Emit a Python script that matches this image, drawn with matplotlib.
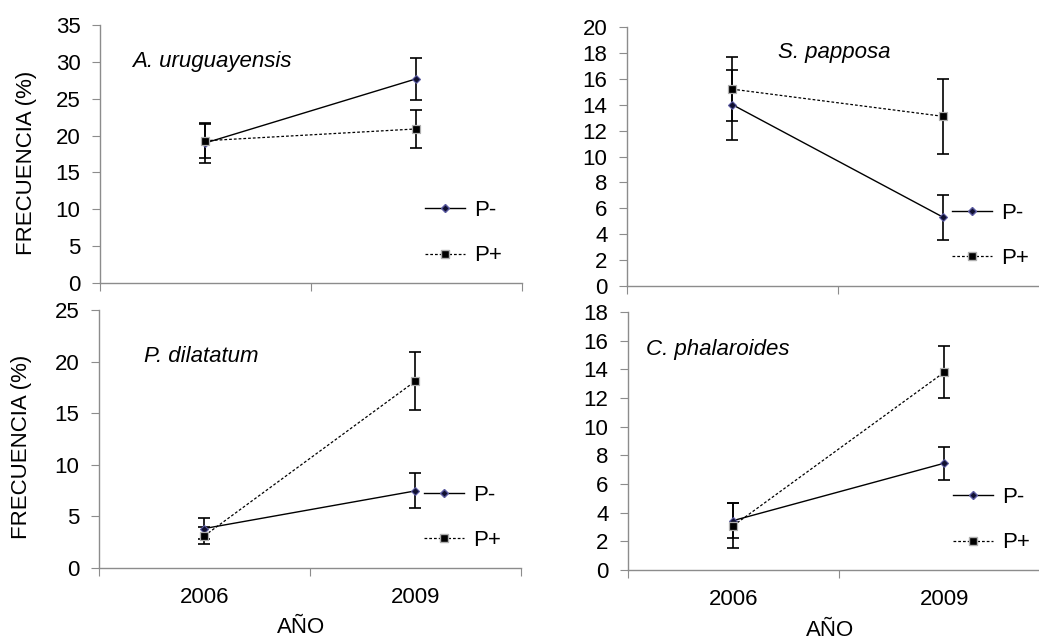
import matplotlib
matplotlib.use("Agg")
import matplotlib.pyplot as plt
from matplotlib.lines import Line2D

plt.rcParams['font.family'] = ['Liberation Sans', 'DejaVu Sans']

# data
years = ['2006', '2009']
species = ['A. uruguayensis', 'S. papposa', 'P. dilatatum', 'C. phalaroides']
p_minus = [[19.0, 27.7], [14.0, 5.3], [3.8, 7.45], [3.45, 7.45]]
p_minus_err = [[2.7, 2.85], [2.7, 1.75], [1.0, 1.7], [1.2, 1.15]]
p_plus = [[19.3, 20.9], [15.2, 13.1], [3.1, 18.1], [3.1, 13.8]]
p_plus_err = [[2.3, 2.6], [2.45, 2.9], [0.8, 2.8], [1.6, 1.8]]
y_max = [35, 20, 25, 18]
y_step = [5, 2, 5, 2]

# axes placement [left, bottom, width, height] in figure fraction
positions = [[0.0962, 0.5571, 0.406, 0.4038],
             [0.6035, 0.5524, 0.406, 0.4053],
             [0.0953, 0.1116, 0.406, 0.4033],
             [0.6044, 0.1080, 0.406, 0.4038]]
title_pos = [(0.076, 0.857), (0.358, 0.90), (0.107, 0.818), (0.043, 0.853)]
ylabel_x = [-0.149, None, -0.159, None]

fig = plt.figure(figsize=(10.39, 6.39), dpi=100)
axis_gray = '#8c8c8c'
fs = 16

x = [0, 1]
for i in range(4):
    ax = fig.add_axes(positions[i])

    # P- : solid line, small diamonds
    ax.errorbar(x, p_minus[i], yerr=p_minus_err[i], fmt='none', ecolor='black',
                elinewidth=1.2, capsize=4, capthick=1.2, zorder=2)
    ax.plot(x, p_minus[i], color='black', linewidth=1.0, marker='D', markersize=4.5,
            markerfacecolor='#101030', markeredgecolor='#5a5aa0', markeredgewidth=0.8,
            zorder=3)

    # P+ : dashed line, black squares
    ax.errorbar(x, p_plus[i], yerr=p_plus_err[i], fmt='none', ecolor='black',
                elinewidth=1.2, capsize=4, capthick=1.2, zorder=2)
    ax.plot(x, p_plus[i], color='black', linewidth=0.9, linestyle=(0, (2.2, 1.6)),
            marker='s', markersize=6, markerfacecolor='black',
            markeredgecolor='#b0b0b0', markeredgewidth=0.9, zorder=4)

    ax.set_xlim(-0.5, 1.5)
    ax.set_ylim(0, y_max[i])
    ax.set_yticks(range(0, y_max[i] + 1, y_step[i]))

    # x ticks at category edges, labels centred on categories
    ax.set_xticks([-0.5, 0.5, 1.5])
    ax.set_xticklabels([])
    ax.set_xticks(x, minor=True)
    if i >= 2:
        ax.set_xticklabels(years, minor=True, fontsize=fs)
        ax.set_xlabel('AÑO', fontsize=fs)
        ax.xaxis.set_label_coords(0.48, -0.192)
    ax.tick_params(axis='x', which='minor', length=0, pad=14)
    ax.tick_params(axis='x', which='major', length=6, color=axis_gray, direction='out')
    ax.tick_params(axis='y', length=6, color=axis_gray, direction='out', pad=8,
                   labelsize=fs)

    for side in ['top', 'right']:
        ax.spines[side].set_visible(False)
    for side in ['left', 'bottom']:
        ax.spines[side].set_color(axis_gray)
        ax.spines[side].set_linewidth(1.0)
    ax.set_facecolor('none')

    if ylabel_x[i] is not None:
        ax.set_ylabel('FRECUENCIA (%)', fontsize=fs)
        ax.yaxis.set_label_coords(ylabel_x[i], 0.467)

    ax.text(title_pos[i][0], title_pos[i][1], species[i], transform=ax.transAxes,
            fontsize=fs, style='italic', ha='left', va='center')

    handles = [Line2D([], [], color='black', linewidth=1.0, marker='D', markersize=4.5,
                      markerfacecolor='#101030', markeredgecolor='#5a5aa0'),
               Line2D([], [], color='black', linewidth=0.9, linestyle=(0, (2.2, 1.6)),
                      marker='s', markersize=6, markerfacecolor='black',
                      markeredgecolor='#b0b0b0')]
    ax.legend(handles, ['P-', 'P+'], loc='upper left', bbox_to_anchor=(0.77, 0.322),
              frameon=False, fontsize=fs, handlelength=1.8, handletextpad=0.4,
              labelspacing=1.1, borderpad=0, borderaxespad=0)

fig.savefig('out.png', dpi=100)
